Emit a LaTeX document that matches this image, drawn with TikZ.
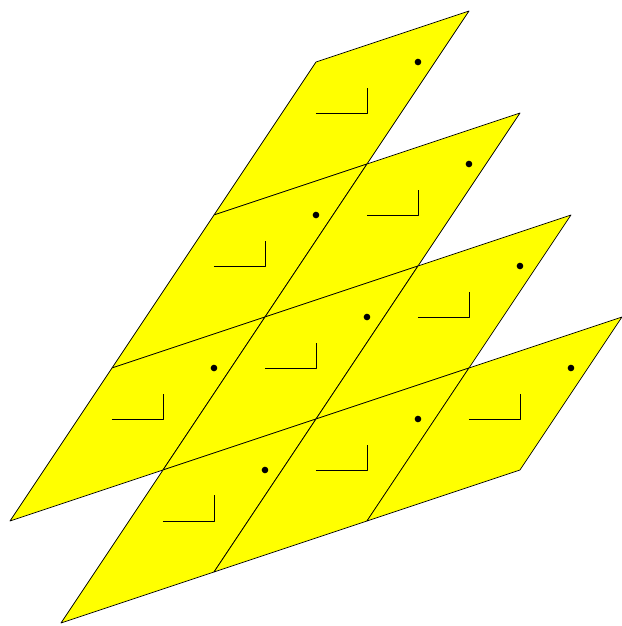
\documentclass[tikz,border=0pt]{standalone}
\definecolor{jaune}{RGB}{255,255,0}
\begin{document}
\begin{tikzpicture}[line join=round]
	\useasboundingbox (-6.196,1.216) rectangle (6,-11.059);
	% Vecteurs du réseau : u = (3,1) et v = (-2,-3)
	% Cellules (i,j) du pavage, coin haut-gauche en i*u + j*v
	\foreach \i/\j in {0/0,0/1,1/1,0/2,1/2,2/2,1/3,2/3,3/3} {
		\coordinate (C\i\j) at ({3*\i-2*\j},{\i-3*\j});
		% Parallélogramme
		\draw[fill=jaune] (C\i\j) -- ++(3,1) -- ++(-2,-3) -- ++(-3,-1) -- cycle;
		% Marque d'angle droit
		\draw (C\i\j) ++(0,-1) -- ++(1,0) -- ++(0,0.5);
		% Point
		\fill (C\i\j) ++(2,0) circle (0.065);
	}
\end{tikzpicture}
\end{document}
